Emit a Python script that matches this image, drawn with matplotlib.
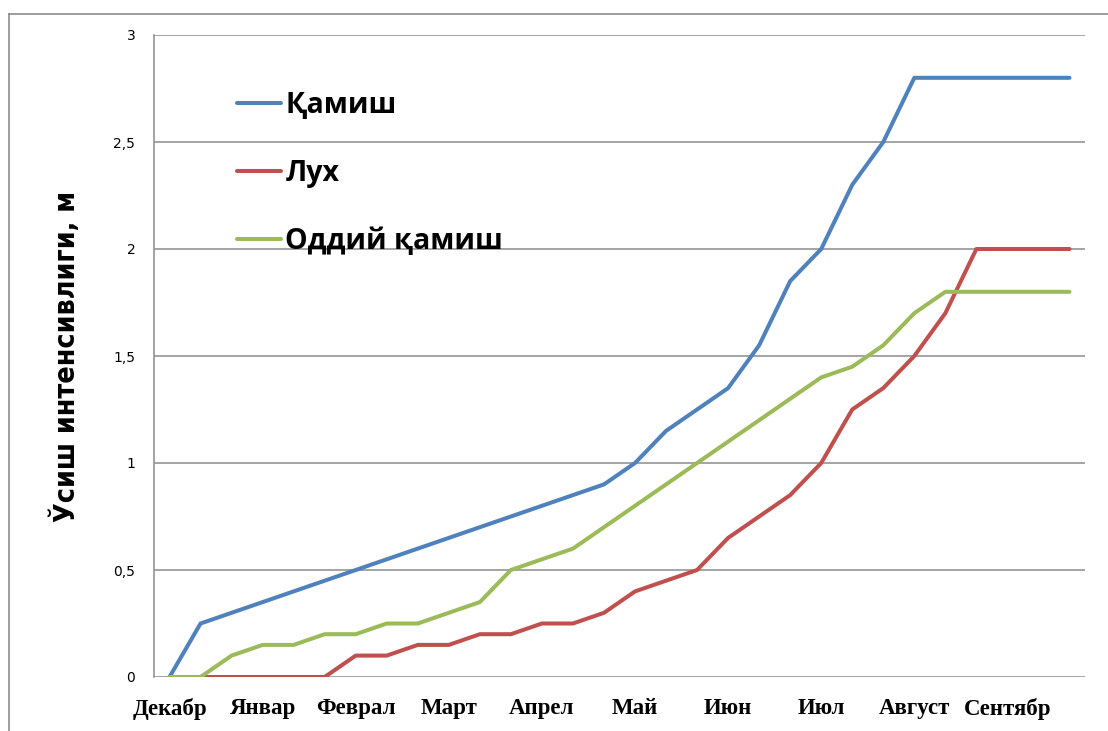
import matplotlib
matplotlib.use("Agg")
import matplotlib.pyplot as plt
from matplotlib.lines import Line2D

months = ["Декабр", "Январ", "Феврал", "Март", "Апрел", "Май", "Июн", "Июл", "Август", "Сентябр"]
y_ticks = [0, 0.5, 1, 1.5, 2, 2.5, 3]
y_tick_labels = ["0", "0,5", "1", "1,5", "2", "2,5", "3"]

# 30 points, 3 per month
qamish = [0, 0.25, 0.3, 0.35, 0.4, 0.45, 0.5, 0.55, 0.6, 0.65, 0.7, 0.75, 0.8, 0.85, 0.9,
          1.0, 1.15, 1.25, 1.35, 1.55, 1.85, 2.0, 2.3, 2.5, 2.8, 2.8, 2.8, 2.8, 2.8, 2.8]
lukh = [0, 0, 0, 0, 0, 0, 0.1, 0.1, 0.15, 0.15, 0.2, 0.2, 0.25, 0.25, 0.3,
        0.4, 0.45, 0.5, 0.65, 0.75, 0.85, 1.0, 1.25, 1.35, 1.5, 1.7, 2.0, 2.0, 2.0, 2.0]
oddiy = [0, 0, 0.1, 0.15, 0.15, 0.2, 0.2, 0.25, 0.25, 0.3, 0.35, 0.5, 0.55, 0.6, 0.7,
         0.8, 0.9, 1.0, 1.1, 1.2, 1.3, 1.4, 1.45, 1.55, 1.7, 1.8, 1.8, 1.8, 1.8, 1.8]

series_names = ["Қамиш", "Лух", "Оддий қамиш"]
colors = ["#4F81BD", "#C0504D", "#9BBB59"]

fig = plt.figure(figsize=(11.08, 7.31), dpi=100)
ax = fig.add_axes([154 / 1108, 1 - 677 / 731, 931 / 1108, 642 / 731])

x = list(range(len(qamish)))
for vals, name, c in zip([qamish, lukh, oddiy], series_names, colors):
    ax.plot(x, vals, color=c, lw=2.9, label=name, solid_capstyle="round", solid_joinstyle="round")

ax.set_xlim(-0.5, len(x) - 0.5)
ax.set_ylim(0, 3)
ax.set_yticks(y_ticks)
ax.set_yticklabels(y_tick_labels, family=["Verdana", "DejaVu Sans"], fontsize=10)
ax.set_xticks(x[::3])
ax.set_xticklabels(months, family=["Liberation Serif"], fontweight="bold", fontsize=16.5)
ax.tick_params(axis="both", length=0)
ax.tick_params(axis="y", pad=13.5)
ax.tick_params(axis="x", pad=15)

ax.grid(axis="y", color="#8c8c8c", lw=1.1)
ax.set_axisbelow(True)
for s in ["top", "right", "bottom"]:
    ax.spines[s].set_visible(False)
ax.spines["left"].set_color("#8c8c8c")
ax.spines["left"].set_linewidth(1.1)

ax.set_ylabel("Ўсиш интенсивлиги, м", family=["DejaVu Sans"], fontstretch="condensed",
              fontweight="bold", fontsize=20.5, labelpad=23)

leg = ax.legend(loc="upper left", bbox_to_anchor=(0.089, 0.913), frameon=False,
                prop={"family": ["Open Sans", "DejaVu Sans"], "weight": "bold", "size": 20.5},
                handlelength=1.55, handletextpad=0.15, labelspacing=1.37,
                borderpad=0, borderaxespad=0)

# outer chart border
fig.add_artist(Line2D([9 / 1108, 1], [1 - 14 / 731, 1 - 14 / 731], color="#8c8c8c", lw=1.2))
fig.add_artist(Line2D([9 / 1108, 9 / 1108], [0, 1 - 14 / 731], color="#8c8c8c", lw=1.2))

fig.savefig("out.png", dpi=100)
